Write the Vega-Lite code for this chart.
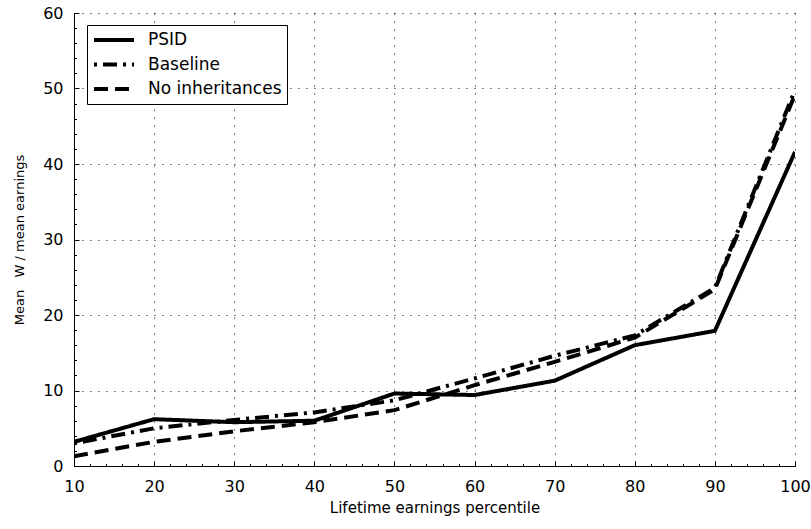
{
  "$schema": "https://vega.github.io/schema/vega-lite/v6.json",
  "width": 721,
  "height": 453,
  "autosize": {"type": "none"},
  "padding": {"left": 74, "top": 13, "right": 16, "bottom": 63},
  "background": "white",
  "config": {
    "font": "DejaVu Sans",
    "view": {"stroke": null},
    "axis": {"labelFont": "DejaVu Sans", "titleFont": "DejaVu Sans", "labelColor": "black", "titleColor": "black", "titleFontWeight": "normal"}
  },
  "data": {
    "values": [
      {"p": 10, "s": "PSID", "v": 3.2},
      {"p": 20, "s": "PSID", "v": 6.2},
      {"p": 30, "s": "PSID", "v": 5.8},
      {"p": 40, "s": "PSID", "v": 6.0},
      {"p": 50, "s": "PSID", "v": 9.6},
      {"p": 60, "s": "PSID", "v": 9.4},
      {"p": 70, "s": "PSID", "v": 11.3},
      {"p": 80, "s": "PSID", "v": 16.0},
      {"p": 90, "s": "PSID", "v": 17.9},
      {"p": 100, "s": "PSID", "v": 41.6},
      {"p": 10, "s": "Baseline", "v": 3.0},
      {"p": 20, "s": "Baseline", "v": 5.0},
      {"p": 30, "s": "Baseline", "v": 6.1},
      {"p": 40, "s": "Baseline", "v": 7.1},
      {"p": 50, "s": "Baseline", "v": 8.7},
      {"p": 60, "s": "Baseline", "v": 11.6},
      {"p": 70, "s": "Baseline", "v": 14.6},
      {"p": 80, "s": "Baseline", "v": 17.3},
      {"p": 90, "s": "Baseline", "v": 23.6},
      {"p": 100, "s": "Baseline", "v": 49.8},
      {"p": 10, "s": "No inheritances", "v": 1.3},
      {"p": 20, "s": "No inheritances", "v": 3.2},
      {"p": 30, "s": "No inheritances", "v": 4.6},
      {"p": 40, "s": "No inheritances", "v": 5.8},
      {"p": 50, "s": "No inheritances", "v": 7.4},
      {"p": 60, "s": "No inheritances", "v": 10.7},
      {"p": 70, "s": "No inheritances", "v": 13.8},
      {"p": 80, "s": "No inheritances", "v": 17.0},
      {"p": 90, "s": "No inheritances", "v": 23.4},
      {"p": 100, "s": "No inheritances", "v": 49.2}
    ]
  },
  "resolve": {"axis": {"x": "independent", "y": "independent"}},
  "layer": [
    {
      "mark": {"type": "line", "color": "black", "strokeWidth": 4, "strokeCap": "butt", "strokeJoin": "miter", "clip": true},
      "encoding": {
        "x": {
          "field": "p", "type": "quantitative",
          "scale": {"domain": [10, 100], "nice": false, "zero": false},
          "axis": {
            "orient": "bottom",
            "values": [10, 20, 30, 40, 50, 60, 70, 80, 90, 100],
            "title": "Lifetime earnings percentile",
            "titleFontSize": 15, "titlePadding": 6,
            "labelFontSize": 16, "labelPadding": 17, "labelFlush": false, "labelOverlap": false,
            "domainColor": "black", "domainWidth": 1,
            "tickColor": "black", "tickSize": -5, "tickWidth": 1,
            "grid": true, "gridColor": "black", "gridDash": [1, 7], "gridWidth": 1, "gridOpacity": 1
          }
        },
        "y": {
          "field": "v", "type": "quantitative",
          "scale": {"domain": [0, 60], "nice": false},
          "axis": {
            "orient": "left",
            "values": [0, 10, 20, 30, 40, 50, 60],
            "title": "Mean\u00a0\u00a0\u00a0W / mean earnings",
            "titleFontSize": 13, "titlePadding": 16,
            "labelFontSize": 16, "labelPadding": 16, "labelFlush": false, "labelOverlap": false,
            "domainColor": "black", "domainWidth": 1,
            "tickColor": "black", "tickSize": -5, "tickWidth": 1,
            "grid": true, "gridColor": "black", "gridDash": [1, 7], "gridWidth": 1, "gridOpacity": 1
          }
        },
        "strokeDash": {
          "field": "s", "type": "nominal",
          "scale": {"domain": ["PSID", "Baseline", "No inheritances"], "range": [[1, 0], [3, 6, 14, 6], [14, 7]]},
          "legend": {
            "title": null,
            "orient": "none", "legendX": 13, "legendY": 12,
            "direction": "vertical",
            "strokeColor": "black", "fillColor": "white",
            "padding": 5,
            "labelFontSize": 17, "labelColor": "black", "labelFont": "DejaVu Sans",
            "labelExpr": "datum.label + '\u00a0\u00a0\u00a0'",
            "symbolType": "stroke", "symbolStrokeWidth": 4, "symbolStrokeColor": "black",
            "symbolSize": 1600, "clipHeight": 20, "rowPadding": 4.5, "labelOffset": 12
          }
        }
      }
    },
    {
      "mark": {"type": "point", "opacity": 0},
      "encoding": {
        "x": {
          "field": "p", "type": "quantitative",
          "axis": {
            "orient": "bottom",
            "values": [12, 14, 16, 18, 22, 24, 26, 28, 32, 34, 36, 38, 42, 44, 46, 48, 52, 54, 56, 58, 62, 64, 66, 68, 72, 74, 76, 78, 82, 84, 86, 88, 92, 94, 96, 98],
            "title": null, "labels": false, "domain": false, "grid": false,
            "tickColor": "black", "tickSize": -2.5, "tickWidth": 1
          }
        },
        "y": {
          "field": "v", "type": "quantitative",
          "axis": {
            "orient": "left",
            "values": [2, 4, 6, 8, 12, 14, 16, 18, 22, 24, 26, 28, 32, 34, 36, 38, 42, 44, 46, 48, 52, 54, 56, 58],
            "title": null, "labels": false, "domain": false, "grid": false,
            "tickColor": "black", "tickSize": -2.5, "tickWidth": 1
          }
        }
      }
    }
  ]
}
